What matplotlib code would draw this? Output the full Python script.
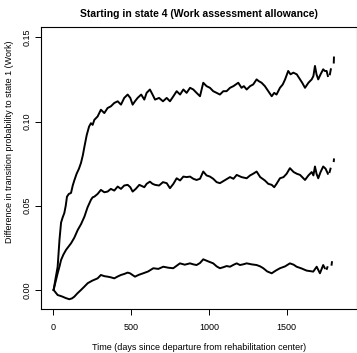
import matplotlib
matplotlib.use('Agg')
import numpy as np
import matplotlib.pyplot as plt

plt.rcParams['font.family'] = ['Liberation Sans', 'DejaVu Sans']

# ==========================================
# DATOS
# ==========================================
nan = np.nan

dias_alto = [2, 15, 28, 40, 50, 60, 71, 80, 88, 100, 114, 125, 135, 150, 165, 178, 190, 200,
             215, 230, 242, 253, 264, 285, 306, 328, 349, 370, 392, 414, 435, 456, 478, 495,
             510, 525, 542, 565, 585, 600, 621, 638, 654, 680, 705, 729, 750, 772, 793, 815,
             836, 857, 879, 900, 921, 943, 964, 985, 1007, 1028, 1050, 1071, 1093, 1114, 1136,
             1158, 1189, 1210, 1225, 1243, 1265, 1285, 1307, 1320, 1339, 1360, 1382, 1404,
             1420, 1435, 1457, 1475, 1490, 1510, 1525, 1543, 1565, 1586, 1600, 1618, 1640,
             1661, 1672, 1682, 1692, 1703, 1718, 1735, 1745, 1757, 1765, nan, 1778, 1784, nan,
             1803, 1804]
dif_alto = [0.000, 0.007, 0.0138, 0.030, 0.040, 0.043, 0.0457, 0.050, 0.0554, 0.057, 0.0576,
            0.062, 0.065, 0.069, 0.072, 0.0754, 0.080, 0.085, 0.092, 0.097, 0.099, 0.098,
            0.101, 0.103, 0.107, 0.105, 0.108, 0.109, 0.111, 0.112, 0.110, 0.114, 0.116, 0.114,
            0.110, 0.112, 0.114, 0.116, 0.113, 0.117, 0.119, 0.116, 0.113, 0.114, 0.112, 0.114,
            0.112, 0.115, 0.118, 0.116, 0.119, 0.117, 0.120, 0.119, 0.117, 0.115, 0.123, 0.121,
            0.120, 0.118, 0.117, 0.116, 0.118, 0.118, 0.120, 0.121, 0.123, 0.120, 0.121, 0.119,
            0.121, 0.122, 0.125, 0.124, 0.123, 0.121, 0.118, 0.115, 0.117, 0.116, 0.120, 0.122,
            0.125, 0.130, 0.128, 0.129, 0.128, 0.125, 0.123, 0.120, 0.123, 0.125, 0.127, 0.133,
            0.128, 0.125, 0.128, 0.131, 0.130, 0.130, 0.127, nan, 0.128, 0.131, nan, 0.135, 0.138]

dias_medio = [2, 15, 28, 40, 50, 65, 82, 100, 114, 135, 157, 178, 200, 220, 242, 253, 264,
              285, 306, 328, 349, 370, 392, 414, 435, 456, 478, 495, 510, 530, 553, 585, 600,
              621, 638, 654, 680, 705, 729, 750, 772, 793, 815, 836, 857, 879, 900, 921, 943,
              964, 985, 1007, 1028, 1050, 1071, 1100, 1136, 1158, 1179, 1210, 1243, 1265, 1285,
              1307, 1330, 1360, 1382, 1404, 1420, 1435, 1457, 1480, 1500, 1521, 1545, 1565,
              1586, 1600, 1618, 1640, 1661, 1672, 1682, 1692, 1703, 1718, 1735, 1750, 1765, nan,
              1776, 1782, nan, 1803, 1804]
dif_medio = [0.000, 0.005, 0.0099, 0.014, 0.0178, 0.021, 0.0238, 0.026, 0.0277, 0.031, 0.0356,
             0.039, 0.0435, 0.049, 0.0535, 0.055, 0.0554, 0.057, 0.0594, 0.058, 0.0584, 0.060,
             0.059, 0.0614, 0.060, 0.062, 0.0624, 0.061, 0.0584, 0.060, 0.0624, 0.061, 0.063,
             0.0643, 0.063, 0.0624, 0.062, 0.064, 0.0634, 0.0604, 0.063, 0.0663, 0.065, 0.0673,
             0.067, 0.0673, 0.066, 0.0653, 0.066, 0.0703, 0.068, 0.0673, 0.066, 0.064, 0.0634,
             0.065, 0.067, 0.066, 0.0683, 0.067, 0.0663, 0.068, 0.069, 0.0703, 0.067, 0.065,
             0.063, 0.0624, 0.061, 0.063, 0.0663, 0.067, 0.069, 0.0723, 0.070, 0.069, 0.0683,
             0.067, 0.0653, 0.068, 0.070, 0.068, 0.0733, 0.069, 0.0663, 0.070, 0.0733, 0.072,
             0.069, nan, 0.070, 0.072, nan, 0.0765, 0.0775]

dias_bajo = [2, 15, 28, 45, 60, 80, 103, 120, 135, 155, 178, 200, 221, 250, 285, 306, 328, 349,
             370, 392, 414, 435, 456, 478, 493, 525, 550, 578, 610, 643, 675, 707, 740, 771,
             795, 814, 845, 879, 900, 921, 943, 964, 995, 1028, 1050, 1071, 1093, 1114, 1136,
             1160, 1179, 1200, 1220, 1243, 1275, 1307, 1330, 1350, 1375, 1404, 1430, 1457,
             1490, 1521, 1545, 1564, 1595, 1628, 1650, 1671, 1693, 1714, 1735, 1745, nan,
             1758, 1762, nan, 1789, 1791]
dif_bajo = [0.000, -0.0015, -0.003, -0.0035, -0.004, -0.0048, -0.0055, -0.005, -0.004, -0.002,
            0.000, 0.002, 0.004, 0.0055, 0.0069, 0.0089, 0.0082, 0.0079, 0.0075, 0.0069,
            0.0080, 0.0089, 0.0095, 0.0103, 0.0099, 0.0079, 0.0090, 0.0099, 0.011, 0.0129,
            0.0125, 0.0138, 0.0132, 0.0129, 0.0145, 0.0158, 0.015, 0.0158, 0.0152, 0.0148,
            0.016, 0.0182, 0.017, 0.0158, 0.014, 0.0129, 0.0135, 0.0142, 0.0138, 0.015, 0.0158,
            0.0148, 0.0152, 0.0158, 0.0152, 0.0148, 0.014, 0.0129, 0.011, 0.0099, 0.0115,
            0.0129, 0.014, 0.0158, 0.015, 0.0138, 0.0128, 0.0115, 0.0112, 0.0109, 0.0138,
            0.0099, 0.0148, 0.013, nan, 0.0125, 0.0135, nan, 0.0150, 0.0165]

ticks_x = [0, 500, 1000, 1500]
ticks_y = [0.00, 0.05, 0.10, 0.15]

# ==========================================
# FIGURA
# ==========================================
fig = plt.figure(figsize=(3.57, 3.53), dpi=100)
ax = fig.add_axes([41 / 357, 1 - 309 / 353, 315.5 / 357, 282 / 353])

for dias, dif in [(dias_alto, dif_alto), (dias_medio, dif_medio), (dias_bajo, dif_bajo)]:
    ax.plot(dias, dif, color='black', linewidth=1.4)

ax.set_xlim(-79, 1949)
ax.set_ylim(-0.0113, 0.1561)
ax.set_xticks(ticks_x)
ax.set_xticklabels([str(t) for t in ticks_x])
ax.set_yticks(ticks_y)
ax.set_yticklabels([f"{t:.2f}" for t in ticks_y], rotation=90, va='center')
ax.tick_params(direction='out', length=4, width=0.7, labelsize=6.5)
ax.tick_params(axis='x', pad=6)
ax.tick_params(axis='y', pad=3)
for s in ax.spines.values():
    s.set_linewidth(0.8)

fig.text(199 / 357, 1 - 14 / 353, "Starting in state 4 (Work assessment allowance)",
         ha='center', va='center', fontsize=7.5, fontweight='bold')
fig.text(199 / 357, 1 - 348 / 353, "Time (days since departure from rehabilitation center)",
         ha='center', va='center', fontsize=6.5)
fig.text(10 / 357, 1 - 142 / 353, "Difference in transition probability to state 1 (Work)",
         ha='center', va='center', rotation=90, fontsize=6.5)

plt.savefig("out.png", dpi=100)
plt.close()
